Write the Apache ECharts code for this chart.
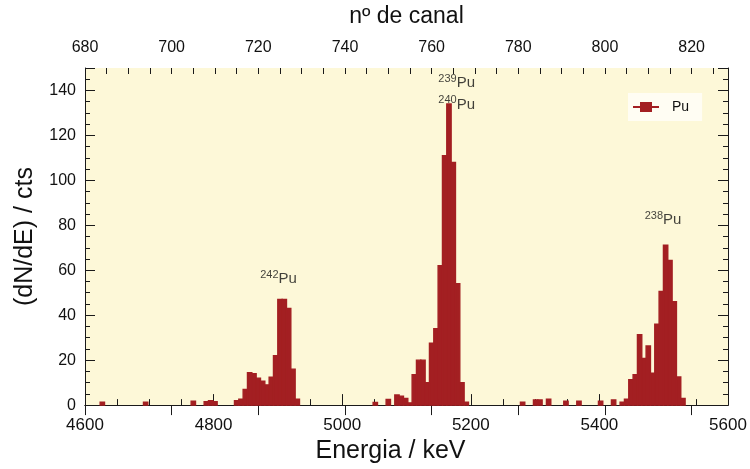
<!DOCTYPE html>
<html>
<head>
<meta charset="utf-8">
<script src="https://cdn.jsdelivr.net/npm/echarts@6/dist/echarts.min.js"></script>
<style>html,body{margin:0;padding:0;background:#fff;}#c{width:750px;height:469px;}</style>
</head>
<body>
<div id="c"></div>
<script>
// Channel numbers (top axis) and counts per channel
const channels = [684, 694, 705, 708, 709, 710, 715, 716, 717, 718, 719, 720, 721, 722, 723, 724, 725, 726, 727, 728, 729,
  747, 750, 752, 753, 754, 755, 756, 757, 758, 759, 760, 761, 762, 763, 764, 765, 766, 767, 768,
  781, 784, 785, 787, 791, 794, 799, 802, 804, 805, 806, 807, 808, 809, 810, 811, 812, 813, 814, 815, 816, 817, 818];
const counts = [1.3, 1.3, 1.7, 1.5, 2, 1.5, 2, 2.6, 7, 14.4, 14, 12, 10.6, 9, 12.4, 22, 47, 47, 43, 16, 2.6,
  1.2, 2.5, 4.5, 4, 3, 1, 13.5, 20, 20, 10, 27.5, 34, 62, 111, 134, 108, 54, 10, 1.3,
  1.3, 2.3, 2.3, 2.6, 1.7, 1.7, 1.7, 2.3, 1.3, 2.6, 11.3, 13.5, 31.3, 20.8, 26.3, 14.2, 36, 50.6, 71.2, 64.4, 46, 12.5, 3];

// Peak annotations (energy in keV, height in counts)
const annoIso = ['242', '239', '240', '238'];
const annoE = [4901, 5178, 5178, 5499];
const annoY = [56, 143.4, 133.8, 82.6];

const energyTicks = { min: 4600, max: 5600, interval: 200 };
const channelTicks = { min: 680, max: 828.4, interval: 20, minor: 5 };
const countTicks = { min: 0, max: 150, interval: 20 };

const BAR = '#a31f22';
const FONT = 'Liberation Sans';
const AX = '#1a1a1a';

const chart = echarts.init(document.getElementById('c'), null, { renderer: 'canvas' });

const axisBase = {
  axisLine: { show: true, lineStyle: { color: AX, width: 1 } },
  splitLine: { show: false },
  axisLabel: { color: '#111', fontFamily: FONT, fontSize: 16, formatter: v => String(v) },
  nameTextStyle: { color: '#111', fontFamily: FONT, fontSize: 23 }
};

const option = {
  animation: false,
  backgroundColor: '#ffffff',
  grid: { left: 85, right: 22, top: 68, bottom: 58, show: true, backgroundColor: '#fdf8d8', borderWidth: 0 },
  legend: {
    data: [{ name: 'Pu', icon: 'path://M0,4H7V0H19V4H26V6H19V10H7V6H0Z', itemStyle: { color: BAR } }],
    left: 628, top: 93,
    itemWidth: 26, itemHeight: 10,
    padding: [7, 13, 7, 5],
    backgroundColor: '#fffdf3',
    textStyle: { color: '#111', fontFamily: FONT, fontSize: 14, padding: [0, 0, 0, 8] }
  },
  xAxis: [
    Object.assign({}, axisBase, {
      type: 'value', position: 'bottom',
      min: energyTicks.min, max: energyTicks.max, interval: energyTicks.interval,
      name: 'Energia / keV', nameLocation: 'middle', nameGap: 33,
      nameTextStyle: { color: '#111', fontFamily: FONT, fontSize: 25, padding: [0, 32, 0, 0] },
      axisTick: { show: true, inside: true, length: 11, lineStyle: { color: AX } },
      minorTick: { show: true, splitNumber: 4, length: 6, lineStyle: { color: AX } },
      axisLabel: Object.assign({}, axisBase.axisLabel, { margin: 12, fontSize: 17 })
    }),
    Object.assign({}, axisBase, {
      type: 'value', position: 'top',
      min: channelTicks.min, max: channelTicks.max, interval: channelTicks.interval,
      name: 'nº de canal', nameLocation: 'middle', nameGap: 40,
      axisTick: { show: true, inside: true, length: 10, lineStyle: { color: AX } },
      minorTick: { show: false },
      axisLabel: Object.assign({}, axisBase.axisLabel, { margin: 12, showMaxLabel: false })
    }),
    {
      type: 'value', position: 'top',
      min: channelTicks.min, max: channelTicks.max, interval: channelTicks.minor,
      axisLine: { show: false },
      axisTick: { show: true, inside: true, length: 6, lineStyle: { color: AX } },
      axisLabel: { show: false },
      splitLine: { show: false }
    }
  ],
  yAxis: [
    Object.assign({}, axisBase, {
      type: 'value', position: 'left',
      min: countTicks.min, max: countTicks.max, interval: countTicks.interval,
      name: '(dN/dE) / cts', nameLocation: 'middle', nameGap: 47,
      nameTextStyle: { color: '#111', fontFamily: FONT, fontSize: 25 },
      axisTick: { show: true, inside: true, length: 10, lineStyle: { color: AX } },
      minorTick: { show: true, splitNumber: 4, length: 5, lineStyle: { color: AX } },
      axisLabel: Object.assign({}, axisBase.axisLabel, { margin: 9, showMaxLabel: false })
    }),
    Object.assign({}, axisBase, {
      type: 'value', position: 'right',
      min: countTicks.min, max: countTicks.max, interval: countTicks.interval,
      axisTick: { show: true, inside: true, length: 10, lineStyle: { color: AX } },
      minorTick: { show: true, splitNumber: 4, length: 5, lineStyle: { color: AX } },
      axisLabel: { show: false }
    })
  ],
  series: [
    {
      name: 'Pu',
      type: 'custom',
      xAxisIndex: 1,
      yAxisIndex: 0,
      itemStyle: { color: BAR },
      data: channels.map((c, i) => [c, counts[i]]),
      encode: { x: 0, y: 1 },
      renderItem: function (params, api) {
        const c = api.value(0), v = api.value(1);
        const p0 = api.coord([c - 0.5, v]);
        const p1 = api.coord([c + 0.5, 0]);
        return {
          type: 'rect',
          shape: { x: p0[0], y: p0[1], width: p1[0] - p0[0], height: p1[1] - p0[1] },
          style: { fill: BAR, stroke: BAR, lineWidth: 1.4 }
        };
      }
    },
    {
      name: 'annot',
      type: 'scatter',
      xAxisIndex: 0,
      yAxisIndex: 0,
      symbolSize: 0.1,
      itemStyle: { color: 'rgba(0,0,0,0)' },
      silent: true,
      data: annoE.map((e, i) => [e, annoY[i], annoIso[i]]),
      label: {
        show: true,
        position: 'inside',
        formatter: p => '{s|' + p.value[2] + '}{b|Pu}',
        rich: {
          s: { fontFamily: FONT, fontSize: 11, color: '#111', verticalAlign: 'top', lineHeight: 19, padding: [0, 0, 6, 0] },
          b: { fontFamily: FONT, fontSize: 15, color: '#111', lineHeight: 19 }
        }
      }
    }
  ]
};
chart.setOption(option);
</script>
</body>
</html>
